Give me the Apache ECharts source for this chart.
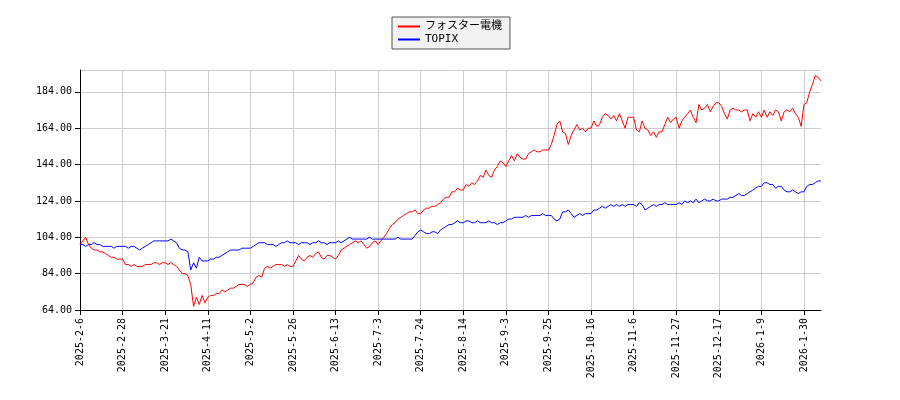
<!DOCTYPE html>
<html><head><meta charset="utf-8">
<script src="https://cdn.jsdelivr.net/npm/echarts@6/dist/echarts.min.js"></script>
<style>html,body{margin:0;padding:0;background:#fff}#c{width:900px;height:400px}</style>
</head><body><div id="c"></div>
<script>
const tickLabels = ["2025-2-6","2025-2-28","2025-3-21","2025-4-11","2025-5-2","2025-5-26","2025-6-13","2025-7-3","2025-7-24","2025-8-14","2025-9-3","2025-9-25","2025-10-16","2025-11-6","2025-11-27","2025-12-17","2026-1-9","2026-1-30"];
const foster = [
100,102,104,100,98,97,97,96,96,95,94,93,93,92,92,
92,89,89,88,89,88,88,88,89,89,89,90,90,89,90,
90,89,90,89,88,86,84,84,83,78,66,71,67,72,68,
71,72,72,73,73,75,74,75,76,76,77,78,78,78,77,
78,79,82,83,82,87,88,87,88,89,89,89,88,89,88,
88,91,94,92,91,93,94,93,95,96,93,92,94,94,93,
92,94,97,98,99,100,101,102,101,102,100,98,99,101,102,
100,102,104,106,109,111,112,114,115,116,117,118,118,119,117,
117,119,120,120,121,121,122,123,125,126,126,129,129,131,130,
130,133,132,134,133,135,138,137,141,138,137,141,143,146,145,
143,146,149,146,150,148,147,147,150,151,152,151,151,152,152,
152,155,160,166,168,162,161,155,160,163,166,163,164,162,164,
164,168,165,166,170,172,171,169,171,168,172,168,164,170,170,
170,163,162,168,164,163,160,162,159,162,162,166,170,167,169,
170,164,168,170,172,174,170,167,177,174,175,177,173,176,178,
178,176,172,169,174,175,174,174,173,174,174,168,172,170,173,
170,174,170,173,171,174,173,168,173,174,173,175,172,170,165,
177,178,184,188,193,192,190
];
const topix = [
100,100,99,100,100,101,100,100,99,99,99,99,98,99,99,
99,99,98,99,99,98,97,98,99,100,101,102,102,102,102,
102,102,103,102,101,98,97,97,96,86,90,87,93,91,91,
91,92,92,93,93,94,95,96,97,97,97,97,98,98,98,
98,99,100,101,101,101,100,100,100,99,100,101,101,102,101,
101,101,100,101,101,101,100,101,101,102,101,101,100,101,101,
101,102,101,102,103,104,103,103,103,103,103,103,104,103,103,
103,103,103,103,103,103,103,104,103,103,103,103,103,105,107,
108,107,106,106,107,107,106,108,109,110,111,111,112,113,112,
112,113,113,112,112,113,112,112,112,113,112,112,111,112,112,
113,114,114,115,115,115,115,116,115,116,116,116,116,117,116,
116,116,114,113,114,118,118,119,117,115,116,117,116,117,117,
117,119,119,120,121,120,121,122,121,122,121,122,121,122,122,
122,121,123,122,119,120,121,122,121,122,122,123,122,122,122,
122,123,122,124,123,124,123,125,123,124,125,124,124,125,124,
124,125,125,125,126,126,127,128,127,127,128,129,130,131,132,
132,134,134,133,133,131,132,132,130,129,129,130,129,128,129,
129,132,133,133,134,135,135
];
const step = 15;
const cats = foster.map((_, i) => (i % step === 0 && tickLabels[i / step]) ? tickLabels[i / step] : String(i));
const chart = echarts.init(document.getElementById('c'));
chart.setOption({
  animation: false,
  textStyle: {fontFamily: 'DejaVu Sans'},
  legend: {
    top: 17, left: 'center', orient: 'vertical', itemGap: 2,
    borderColor: '#555', borderWidth: 1, padding: [4, 8, 4, 6],
    backgroundColor: '#f2f2f2', borderRadius: 0,
    itemWidth: 22, itemHeight: 2, icon: 'rect',
    textStyle: {fontSize: 11, color: '#000', fontFamily: 'DejaVu Sans Mono, Noto Sans CJK JP'},
    data: ['フォスター電機', 'TOPIX']
  },
  grid: {left: 80, right: 79, top: 70, bottom: 90},
  xAxis: {
    type: 'category', data: cats, boundaryGap: false,
    axisLine: {lineStyle: {color: '#000'}},
    axisTick: {interval: i => i % step === 0, lineStyle: {color: '#000'}},
    axisLabel: {interval: i => i % step === 0, rotate: 90, fontSize: 10, color: '#000', fontFamily: 'DejaVu Sans Mono'},
    splitLine: {show: true, interval: i => i % step === 0, lineStyle: {color: '#ccc'}}
  },
  yAxis: {
    type: 'value', min: 64, max: 196, interval: 20,
    axisLine: {show: true, lineStyle: {color: '#000'}},
    axisTick: {show: true, lineStyle: {color: '#000'}},
    axisLabel: {showMaxLabel: false, fontSize: 10, color: '#000', fontFamily: 'DejaVu Sans Mono', formatter: v => v.toFixed(2)},
    splitLine: {lineStyle: {color: '#ccc'}}
  },
  series: [
    {name: 'フォスター電機', type: 'line', data: foster, symbol: 'none', lineStyle: {color: '#ff0000', width: 1}, itemStyle: {color: '#ff0000'}},
    {name: 'TOPIX', type: 'line', data: topix, symbol: 'none', lineStyle: {color: '#0000ff', width: 1}, itemStyle: {color: '#0000ff'}}
  ]
});
</script></body></html>
